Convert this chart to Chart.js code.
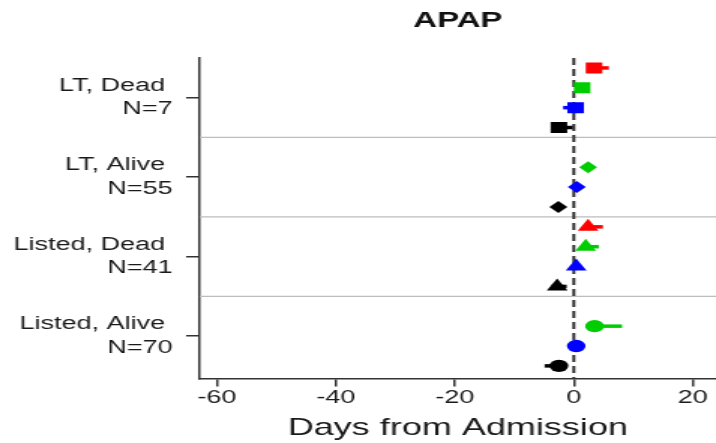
<!DOCTYPE html>
<html>
<head>
<meta charset="utf-8">
<script src="https://cdn.jsdelivr.net/npm/chart.js@4/dist/chart.umd.min.js"></script>
<style>
  html, body { margin: 0; padding: 0; background: #fff; overflow: hidden; }
  /* the reference is stretched sideways, so the chart is drawn narrow and widened */
  #c { display: block; transform: scaleX(1.501); transform-origin: 0 0; }
</style>
</head>
<body>
<canvas id="c" width="477" height="443"></canvas>
<script>
// ── Data ─────────────────────────────────────────────────
const categories = ["LT, Dead", "LT, Alive", "Listed, Dead", "Listed, Alive"];
const groupN = ["N=7", "N=55", "N=41", "N=70"];
const xTicks = [-60, -40, -20, 0, 20];

// one value per category, null where the series has no estimate
const redVal   = [3.4, null, 2.4, null];
const redLo    = [2.5, null, 1.6, null];
const redHi    = [5.9, null, 4.9, null];
const greenVal = [1.4, 2.4, 2.0, 3.5];
const greenLo  = [1.0, 2.0, 1.4, 2.0];
const greenHi  = [1.8, 2.8, 4.2, 8.1];
const blueVal  = [0.3, 0.5, 0.4, 0.4];
const blueLo   = [-1.8, 0.1, 0.0, 0.0];
const blueHi   = [0.6, 0.9, 0.8, 0.8];
const blackVal = [-2.5, -2.6, -2.8, -2.5];
const blackLo  = [-3.0, -3.0, -3.8, -4.9];
const blackHi  = [-0.2, -2.2, -1.2, -1.5];

// ── Styles ───────────────────────────────────────────────
const FONT = "'Liberation Sans', Arial, sans-serif";
const markerStyle = ["rect", "rectRot", "triangle", "circle"];
const markerSize = [7.8, 6, 8, 6.2];
const ROWS = 4; // one row per series inside each category band

const series = [
  { name: "red",   color: "#ff0000", val: redVal,   lo: redLo,   hi: redHi },
  { name: "green", color: "#00cd00", val: greenVal, lo: greenLo, hi: greenHi },
  { name: "blue",  color: "#0000ff", val: blueVal,  lo: blueLo,  hi: blueHi },
  { name: "black", color: "#000000", val: blackVal, lo: blackLo, hi: blackHi }
];

const datasets = series.map((s, si) => ({
  label: s.name,
  data: categories
    .map((c, g) => s.val[g] == null ? null : { x: s.val[g], y: g * ROWS + si, g, lo: s.lo[g], hi: s.hi[g] })
    .filter(Boolean),
  backgroundColor: s.color,
  borderColor: s.color,
  borderWidth: 0,
  pointStyle: ctx => markerStyle[ctx.raw ? ctx.raw.g : 0],
  pointRadius: ctx => markerSize[ctx.raw ? ctx.raw.g : 0],
  pointHoverRadius: ctx => markerSize[ctx.raw ? ctx.raw.g : 0]
}));

// ── Plugins: separators, zero line, error bars ───────────
const backdrop = {
  id: "backdrop",
  beforeDatasetsDraw(chart) {
    const { ctx, chartArea: a, scales: { x, y } } = chart;
    ctx.save();
    // band separators
    ctx.strokeStyle = "#bdbdbd";
    ctx.lineWidth = 1.2;
    for (let g = 1; g < categories.length; g++) {
      const py = y.getPixelForValue(g * ROWS - 0.5);
      ctx.beginPath();
      ctx.moveTo(a.left, py);
      ctx.lineTo(a.right, py);
      ctx.stroke();
    }
    // dashed line at zero
    const px = x.getPixelForValue(0);
    ctx.strokeStyle = "#333";
    ctx.lineWidth = 2;
    ctx.setLineDash([7, 4]);
    ctx.beginPath();
    ctx.moveTo(px, a.top);
    ctx.lineTo(px, a.bottom);
    ctx.stroke();
    ctx.setLineDash([]);
    // error bars
    ctx.lineWidth = 3.5;
    chart.data.datasets.forEach((ds, di) => {
      const meta = chart.getDatasetMeta(di);
      ctx.strokeStyle = ds.borderColor;
      meta.data.forEach((pt, i) => {
        const r = ds.data[i];
        ctx.beginPath();
        ctx.moveTo(x.getPixelForValue(r.lo), pt.y);
        ctx.lineTo(x.getPixelForValue(r.hi), pt.y);
        ctx.stroke();
      });
    });
    ctx.restore();
  }
};

new Chart(document.getElementById("c"), {
  type: "scatter",
  data: { datasets },
  plugins: [backdrop],
  options: {
    responsive: false,
    animation: false,
    events: [],
    layout: { autoPadding: false, padding: { left: 0, right: 0, top: 0, bottom: 0 } },
    plugins: {
      legend: { display: false },
      tooltip: { enabled: false },
      title: {
        display: true,
        text: "APAP",
        fullSize: false,
        color: "#111",
        font: { family: FONT, size: 22, weight: "bold" },
        padding: { top: 8, bottom: 23.6 }
      }
    },
    scales: {
      x: {
        type: "linear",
        min: -62.9,
        max: 23.9,
        afterBuildTicks: s => { s.ticks = xTicks.map(v => ({ value: v })); },
        afterFit: s => { s.paddingLeft = 0; s.paddingRight = 0; },
        border: { display: true, color: "#333", width: 1.5 },
        grid: { display: true, drawOnChartArea: false, drawTicks: true, tickLength: 8, color: "#333", lineWidth: 1.5 },
        ticks: { color: "#1a1a1a", padding: 1, maxRotation: 0, font: { family: FONT, size: 18 } },
        title: {
          display: true,
          text: "Days from Admission",
          color: "#1a1a1a",
          font: { family: FONT, size: 24 },
          padding: { top: 4, bottom: 0 }
        }
      },
      y: {
        type: "linear",
        reverse: true,
        min: -0.5,
        max: 15.64,
        afterBuildTicks: s => { s.ticks = categories.map((c, g) => ({ value: g * ROWS + (ROWS - 1) / 2 })); },
        afterFit: s => { s.width = 133; },
        border: { display: true, color: "#333", width: 1.5 },
        grid: { display: true, drawOnChartArea: false, drawTicks: true, tickLength: 9, color: "#333", lineWidth: 1.5 },
        ticks: {
          color: "#1a1a1a",
          padding: 9,
          font: { family: FONT, size: 18, lineHeight: 1.3 },
          callback: (v, i) => [categories[i] + " ", groupN[i]]
        }
      }
    }
  }
});
</script>
</body>
</html>
